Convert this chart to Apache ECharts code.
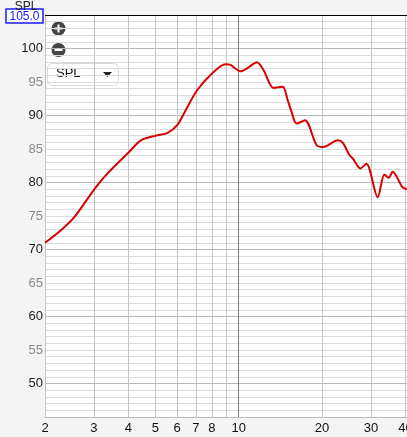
<!DOCTYPE html>
<html>
<head>
<meta charset="utf-8">
<script src="https://cdn.jsdelivr.net/npm/echarts@6/dist/echarts.min.js"></script>
<style>
html,body{margin:0;padding:0;background:#f4f4f4;}
#chart{width:407px;height:437px;}
</style>
</head>
<body>
<div id="chart"></div>
<script>
// Frequency (Hz) and SPL (dB)
const freqs = [2.0, 2.3, 2.56, 3.04, 3.37, 4.03, 4.44, 5.03, 5.54, 6.01, 6.44, 7.09, 8.03, 8.96, 9.34, 10.14, 10.86, 11.64, 12.29, 13.35, 14.42, 15.0, 15.5, 16.19, 17.34, 19.1, 20.17, 22.83, 23.77, 25.1, 25.8, 27.5, 28.9, 31.75, 33.56, 34.77, 35.94, 39.0, 40.5];
const spl = [71.0, 73.0, 74.9, 79.2, 81.4, 84.6, 86.3, 87.0, 87.4, 88.6, 90.8, 93.8, 96.3, 97.65, 97.55, 96.6, 97.2, 97.95, 96.8, 94.1, 94.3, 92.4, 90.6, 88.8, 89.3, 85.6, 85.3, 86.3, 85.9, 84.1, 83.6, 82.1, 82.8, 77.8, 81.2, 80.7, 81.6, 79.3, 79.0];
const xGridValues = [2, 3, 4, 5, 6, 7, 8, 9, 10, 20, 30, 40];
const xTickLabels = [2, 3, 4, 5, 6, 7, 8, 10, 20, 30, 40];
const yMin = 45, yMax = 105, yStep = 5;
const seriesName = 'SPL';

const lineData = freqs.map((f, i) => [f, spl[i]]);

const vLines = xGridValues.map(v => ({
  xAxis: v,
  lineStyle: { color: v === 10 ? '#7a7a7a' : '#c4c4c4', width: 1, type: 'solid' },
  label: { show: xTickLabels.indexOf(v) >= 0 }
}));

const chart = echarts.init(document.getElementById('chart'), null, { renderer: 'canvas' });
chart.setOption({
  backgroundColor: '#f4f4f4',
  animation: false,
  grid: { left: 45, right: 0, top: 15, bottom: 20, show: true, backgroundColor: '#ffffff', borderWidth: 0 },
  xAxis: {
    type: 'log', logBase: 10, min: 2, max: 40.5,
    axisLine: { show: true, lineStyle: { color: '#bbbbbb' } },
    axisTick: { show: false }, axisLabel: { show: false }, splitLine: { show: false }
  },
  yAxis: {
    type: 'value', min: yMin, max: yMax, interval: yStep,
    name: 'SPL', nameLocation: 'end', nameGap: 2,
    nameTextStyle: { color: '#222', fontSize: 12, fontFamily: 'Liberation Sans', padding: [0, 38, 0, 0] },
    axisLine: { show: true, lineStyle: { color: '#b5b5b5' } },
    axisTick: { show: false },
    axisLabel: {
      margin: 2, fontSize: 13, fontFamily: 'Liberation Sans',
      color: v => (v % 10 === 0 ? '#1e1e1e' : '#8a8a8a'),
      formatter: v => (v === yMin || v === yMax ? '' : String(v))
    },
    splitLine: { show: true, lineStyle: { color: ['#dcdcdc', '#b8b8b8'], width: 1 } },
    minorSplitLine: { show: true, lineStyle: { color: '#dcdcdc', width: 1 } },
    minorTick: { show: false, splitNumber: 5 }
  },
  graphic: [
    { type: 'rect', shape: { x: 6, y: 9, width: 37, height: 14 }, style: { fill: '#fff', stroke: '#1a1aff', lineWidth: 1.5 } },
    { type: 'text', x: 24.5, y: 16.5, style: { text: yMax.toFixed(1), fill: '#1a1aff', fontSize: 12, fontFamily: 'Liberation Sans', align: 'center', verticalAlign: 'middle' } },
    { type: 'circle', shape: { cx: 58.5, cy: 28.5, r: 7 }, style: { fill: '#444' } },
    { type: 'rect', shape: { x: 54.5, y: 27.5, width: 8, height: 2 }, style: { fill: '#fff' } },
    { type: 'rect', shape: { x: 57.5, y: 24.5, width: 2, height: 8 }, style: { fill: '#fff' } },
    { type: 'circle', shape: { cx: 58.5, cy: 50, r: 7 }, style: { fill: '#444' } },
    { type: 'rect', shape: { x: 54.5, y: 49, width: 8, height: 2 }, style: { fill: '#fff' } },
    { type: 'rect', shape: { x: 47.5, y: 63.5, width: 71, height: 22, r: 5 }, style: { fill: '#fff', stroke: '#d8d8d8', lineWidth: 1 } },
    { type: 'text', left: 56, top: 67, style: { text: 'SPL', fill: '#111', fontSize: 13, fontFamily: 'Liberation Sans' } },
    { type: 'polygon', shape: { points: [[103, 72], [112, 72], [107.5, 77]] }, style: { fill: '#222' } }
  ],
  series: [
    {
      type: 'line', data: [], z: 1, silent: true,
      markLine: {
        silent: true, symbol: 'none', animation: false,
        label: { show: true, position: 'start', distance: 5, color: '#111', fontSize: 13, fontFamily: 'Liberation Sans', formatter: p => String(p.value) },
        data: vLines.concat([{ yAxis: yMax, lineStyle: { color: '#000', width: 1, type: 'solid' }, label: { show: false } }])
      }
    },
    {
      name: seriesName, type: 'line', data: lineData, z: 5,
      smooth: 0.3, showSymbol: false, symbol: 'none',
      lineStyle: { color: '#d80000', width: 2 }
    }
  ]
});
</script>
</body>
</html>
